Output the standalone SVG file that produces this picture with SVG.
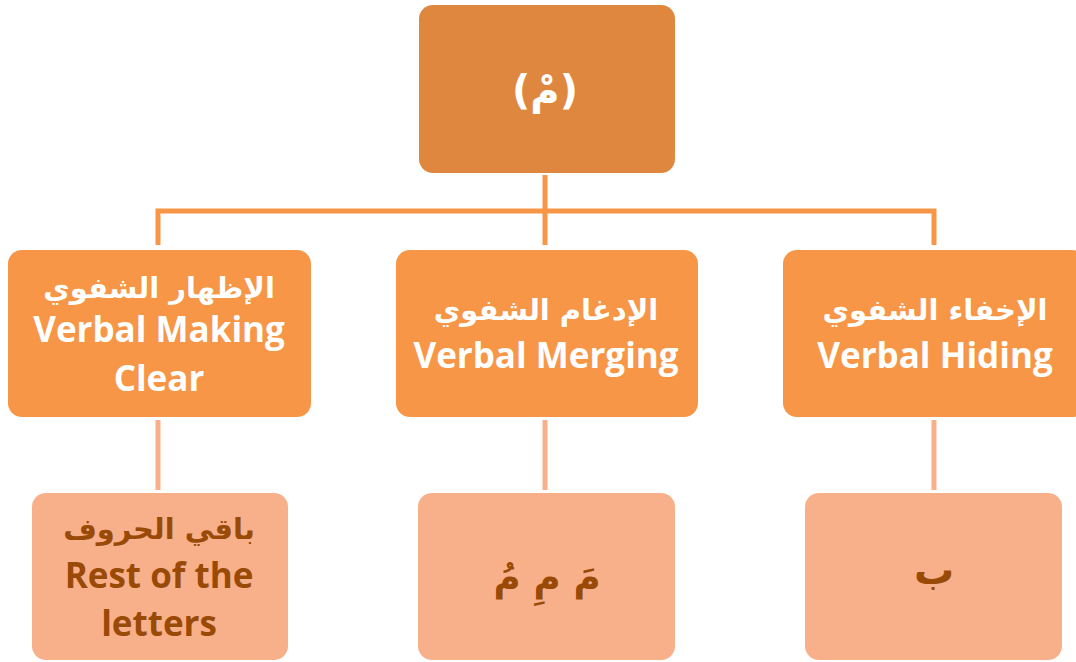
<svg xmlns="http://www.w3.org/2000/svg" width="1076" height="662" viewBox="0 0 1076 662">
<style>
.top{fill:#DF873F}
.mid{fill:#F79646}
.bot{fill:#F8B08A}
.t{font-family:"Open Sans","DejaVu Sans",sans-serif;font-weight:bold;text-anchor:middle}
.w{fill:#FFFFFF}
.b{fill:#9A4A07}
.ar{font-family:"DejaVu Sans",sans-serif;font-weight:bold}
.c1{stroke:#F79646;stroke-width:5;fill:none}
.c2{stroke:#F8B08A;stroke-width:5;fill:none}
</style>
<rect width="1076" height="662" fill="#FFFFFF"/>
<g id="connectors">
<path class="c1" d="M545 175V245M158 245V211H934V245"/>
<path class="c2" d="M158 420V490M545 420V490M934 420V490"/>
</g>
<g id="root">
<rect class="top" x="419" y="5" width="256" height="168" rx="14"/>
<text class="t w ar" x="545" y="104" font-size="40" direction="rtl">(مْ)</text>
</g>
<g id="izhar">
<rect class="mid" x="8" y="250" width="303" height="167" rx="14"/>
<text class="t w ar" x="159" y="298" font-size="29" direction="rtl">الإظهار الشفوي</text>
<text class="t w" x="159" y="342" font-size="35">Verbal Making</text>
<text class="t w" x="159" y="391" font-size="35">Clear</text>
</g>
<g id="idgham">
<rect class="mid" x="396" y="250" width="302" height="167" rx="14"/>
<text class="t w ar" x="546" y="320" font-size="29" direction="rtl">الإدغام الشفوي</text>
<text class="t w" x="546" y="368" font-size="35">Verbal Merging</text>
</g>
<g id="ikhfa">
<rect class="mid" x="783" y="250" width="303" height="167" rx="14"/>
<text class="t w ar" x="935" y="320" font-size="29" direction="rtl">الإخفاء الشفوي</text>
<text class="t w" x="935" y="368" font-size="35">Verbal Hiding</text>
</g>
<g id="rest">
<rect class="bot" x="32" y="493" width="256" height="167" rx="14"/>
<text class="t b ar" x="159" y="539" font-size="29" direction="rtl">باقي الحروف</text>
<text class="t b" x="159" y="588" font-size="35">Rest of the</text>
<text class="t b" x="159" y="636" font-size="35">letters</text>
</g>
<g id="meem">
<rect class="bot" x="418" y="493" width="257" height="167" rx="14"/>
<text class="t b ar" x="547" y="590" font-size="37" direction="rtl">مَ مِ مُ</text>
</g>
<g id="baa">
<rect class="bot" x="805" y="493" width="257" height="167" rx="14"/>
<text class="t b ar" x="934" y="584" font-size="40" direction="rtl">ب</text>
</g>
</svg>
